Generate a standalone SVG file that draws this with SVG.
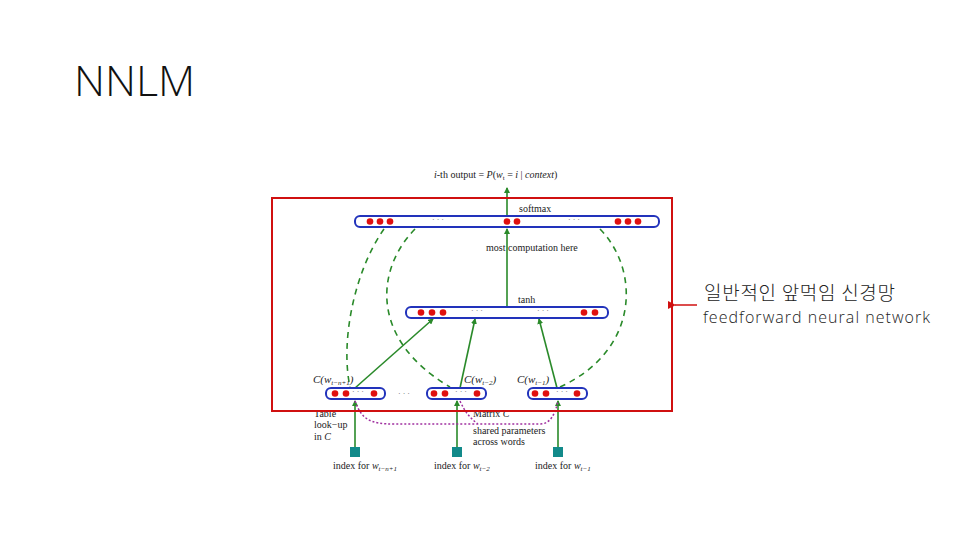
<svg xmlns="http://www.w3.org/2000/svg" width="960" height="540" viewBox="0 0 960 540">
<defs>
<marker id="ga" markerWidth="6" markerHeight="6" refX="5" refY="3" orient="auto" markerUnits="userSpaceOnUse"><path d="M0,0L6,3L0,6z" fill="#2a8a2a"/></marker>
<marker id="ra" markerWidth="8" markerHeight="8" refX="1" refY="4" orient="auto" markerUnits="userSpaceOnUse"><path d="M8,0L0,4L8,8z" fill="#d01010"/></marker>
</defs>
<style>
.bar{fill:#fff;stroke:#2233bb;stroke-width:2}
.dot{fill:#e01010}
.g{stroke:#2a8a2a;stroke-width:1.6;fill:none}
.gd{stroke:#2a8a2a;stroke-width:1.6;fill:none;stroke-dasharray:6 5}
.t{font-family:"Liberation Serif",serif;font-size:10px;fill:#222}
.ti{font-family:"Liberation Serif",serif;font-size:11px;font-style:italic;fill:#222}
.el{font-family:"Liberation Serif",serif;font-size:8px;fill:#666}
</style>
<rect width="960" height="540" fill="#fff"/>
<text x="74" y="96" font-family="Open Sans,Liberation Sans,sans-serif" font-size="43" font-weight="300" fill="#111">NNLM</text>
<g id="connectors">
<path class="g" d="M507,216V188" marker-end="url(#ga)"/>
<path class="g" d="M507,307V229" marker-end="url(#ga)"/>
<path class="g" d="M355,388L433,319" marker-end="url(#ga)"/>
<path class="g" d="M460,388L475,319" marker-end="url(#ga)"/>
<path class="g" d="M557,388L539,319" marker-end="url(#ga)"/>
<path class="g" d="M355,447V401" marker-end="url(#ga)"/>
<path class="g" d="M457,447V401" marker-end="url(#ga)"/>
<path class="g" d="M558,447V401" marker-end="url(#ga)"/>
<path class="gd" d="M384,229C355,270 340,340 350,387"/>
<path class="gd" d="M415,229C375,270 370,340 450,387"/>
<path class="gd" d="M600,229C640,270 640,350 560,387"/>
<path d="M355,401C362,420 370,424 395,424H540C550,424 555,415 558,401M460,401C465,412 470,418 478,424" fill="none" stroke="#a030a0" stroke-width="1.5" stroke-dasharray="2 2"/>
<path d="M697,305H675" stroke="#d01010" stroke-width="1.5" marker-end="url(#ra)"/>
</g>
<g id="softmax">
<rect class="bar" x="355" y="216" width="304" height="11" rx="5"/>
<g class="dot"><circle cx="370" cy="221.5" r="3.3"/><circle cx="380" cy="221.5" r="3.3"/><circle cx="390" cy="221.5" r="3.3"/><circle cx="507" cy="221.5" r="3.3"/><circle cx="517" cy="221.5" r="3.3"/><circle cx="618" cy="221.5" r="3.3"/><circle cx="628" cy="221.5" r="3.3"/><circle cx="638" cy="221.5" r="3.3"/></g>
<text class="el" x="432" y="222">· · ·</text><text class="el" x="568" y="222">· · ·</text>
<text class="t" x="519" y="212">softmax</text>
</g>
<g id="tanh">
<rect class="bar" x="406" y="307" width="202" height="11" rx="5"/>
<g class="dot"><circle cx="421" cy="312.5" r="3.3"/><circle cx="432" cy="312.5" r="3.3"/><circle cx="443" cy="312.5" r="3.3"/><circle cx="584" cy="312.5" r="3.3"/><circle cx="595" cy="312.5" r="3.3"/></g>
<text class="el" x="471" y="313">· · ·</text><text class="el" x="537" y="313">· · ·</text>
<text class="t" x="518" y="303">tanh</text>
<text class="t" x="486" y="251">most  computation here</text>
</g>
<g id="c1">
<rect class="bar" x="326" y="388" width="59" height="11" rx="5"/>
<g class="dot"><circle cx="335" cy="393.5" r="3.3"/><circle cx="346" cy="393.5" r="3.3"/><circle cx="374" cy="393.5" r="3.3"/></g>
<text class="el" x="352" y="394">· · ·</text>
<text class="ti" x="313" y="383">C(w<tspan font-size="7" dy="2">t−n+1</tspan><tspan dy="-2">)</tspan></text>
</g>
<g id="c2">
<rect class="bar" x="427" y="388" width="59" height="11" rx="5"/>
<g class="dot"><circle cx="434" cy="393.5" r="3.3"/><circle cx="445" cy="393.5" r="3.3"/><circle cx="477" cy="393.5" r="3.3"/></g>
<text class="el" x="455" y="394">· · ·</text>
<text class="ti" x="464" y="383">C(w<tspan font-size="7" dy="2">t−2</tspan><tspan dy="-2">)</tspan></text>
</g>
<g id="c3">
<rect class="bar" x="528" y="388" width="59" height="11" rx="5"/>
<g class="dot"><circle cx="535" cy="393.5" r="3.3"/><circle cx="546" cy="393.5" r="3.3"/><circle cx="577" cy="393.5" r="3.3"/></g>
<text class="el" x="556" y="394">· · ·</text>
<text class="ti" x="517" y="383">C(w<tspan font-size="7" dy="2">t−1</tspan><tspan dy="-2">)</tspan></text>
</g>
<text class="el" x="398" y="396">· · ·</text>
<g id="idx">
<rect x="350" y="447" width="10" height="10" fill="#128a8a"/>
<rect x="452" y="447" width="10" height="10" fill="#128a8a"/>
<rect x="553" y="447" width="10" height="10" fill="#128a8a"/>
<text class="t" x="333" y="469">index for <tspan font-style="italic">w</tspan><tspan font-size="7" dy="2" font-style="italic">t−n+1</tspan></text>
<text class="t" x="434" y="469">index for <tspan font-style="italic">w</tspan><tspan font-size="7" dy="2" font-style="italic">t−2</tspan></text>
<text class="t" x="535" y="469">index for <tspan font-style="italic">w</tspan><tspan font-size="7" dy="2" font-style="italic">t−1</tspan></text>
</g>
<text class="t" x="314" y="417">Table</text>
<text class="t" x="314" y="428">look−up</text>
<text class="t" x="314" y="440">in <tspan font-style="italic">C</tspan></text>
<text class="t" x="473" y="417">Matrix <tspan font-style="italic">C</tspan></text>
<text class="t" x="473" y="434">shared parameters</text>
<text class="t" x="473" y="445">across words</text>
<text class="t" x="434" y="178"><tspan font-style="italic">i</tspan>-th output = <tspan font-style="italic">P</tspan>(<tspan font-style="italic">w</tspan><tspan font-size="7" dy="2">t</tspan><tspan dy="-2"> = </tspan><tspan font-style="italic">i</tspan> | <tspan font-style="italic">context</tspan>)</text>
<rect x="272" y="198" width="400" height="213" fill="none" stroke="#d01010" stroke-width="2"/>
<text x="704" y="300" font-family="Noto Sans CJK KR,sans-serif" font-size="19" font-weight="300" fill="#222" textLength="191">일반적인 앞먹임 신경망</text>
<text x="703" y="323" font-family="Open Sans,Liberation Sans,sans-serif" font-size="16" font-weight="300" fill="#222" textLength="227">feedforward neural network</text>
</svg>
